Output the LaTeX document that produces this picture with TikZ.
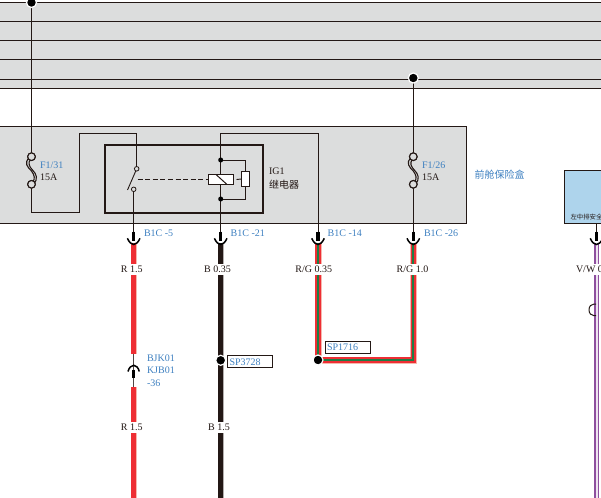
\documentclass[tikz,border=0pt]{standalone}
\usepackage{fontspec}
\setmainfont{Liberation Serif}
\newfontfamily\cjk{Noto Sans CJK SC}
\definecolor{boxgray}{HTML}{DCDDDD}
\definecolor{inkc}{HTML}{231815}
\definecolor{labblue}{HTML}{3E80C0}
\definecolor{wred}{HTML}{EE2E34}
\definecolor{wpink}{HTML}{F6B8AE}
\definecolor{wgreen}{HTML}{1E7E45}
\definecolor{wpurple}{HTML}{8E4F9E}
\definecolor{skyb}{HTML}{AED4EC}
\tikzset{
  every node/.style={outer sep=0pt},
  thin wire/.style={draw=inkc,line width=0.9pt},
  box line/.style={draw=inkc,line width=1pt},
  lab/.style={anchor=base west,inner sep=0pt,font=\fontsize{10}{10}\selectfont,text=inkc},
  blab/.style={lab,text=labblue},
  wlab/.style={anchor=base,inner sep=0pt,font=\fontsize{10}{10}\selectfont,text=inkc},
  gapbox/.style={fill=white,minimum height=11.6pt,inner sep=0pt},
  tagbox/.style={draw=inkc,line width=0.9pt,fill=white,minimum width=45pt,minimum height=12pt,inner sep=0pt},
  dot/.style={circle,fill=black,inner sep=0pt,minimum size=5pt},
  bigdot/.style={circle,fill=black,draw=white,line width=1.2pt,inner sep=0pt,minimum size=10pt},
  ring/.style={circle,draw=inkc,line width=1.1pt,fill=boxgray,inner sep=0pt,minimum size=7.6pt},
  smallring/.style={circle,draw=inkc,line width=0.8pt,fill=boxgray,inner sep=0pt,minimum size=4.6pt},
  redw/.style={draw=wred,line width=5pt},
  redhalo/.style={draw=wpink,line width=6.2pt},
  blackw/.style={draw=inkc,line width=5pt},
  blackhalo/.style={draw=inkc!35,line width=6pt},
  rghalo/.style={draw=wpink,line width=7pt},
  rgout/.style={draw=wred,line width=5.2pt},
  rgin/.style={draw=wgreen,line width=2pt},
  pin/.style={draw=black,line width=3.4pt},
  cup/.style={draw=black,line width=1.5pt},
}
\newcommand{\conncup}[1]{%
  \draw[pin] (#1,231.7) -- (#1,240.7);
  \draw[cup] (#1-6.3,238.3) .. controls (#1-4.5,242.5) and (#1-2,244.5) .. (#1,244.5) .. controls (#1+2,244.5) and (#1+4.5,242.5) .. (#1+6.3,238.3);
}
\newcommand{\fusesym}[2]{%
  \draw[draw=inkc,line width=1.1pt] (#1-2,#2+0.5) .. controls (#1-8,#2+6) and (#1-4,#2+10) .. (#1,#2+14)
     .. controls (#1+3,#2+18) and (#1+4,#2+22) .. (#1+1,#2+25);
  \draw[draw=inkc,line width=1.1pt] (#1-1,#2+2.5) .. controls (#1-4,#2+6) and (#1-2,#2+10) .. (#1+1,#2+13)
     .. controls (#1+5,#2+17) and (#1+7,#2+22) .. (#1+2,#2+27);
}
\begin{document}
\begin{tikzpicture}[x=1pt,y=-1pt]
\useasboundingbox (0,0) rectangle (601,497);
\begin{scope}
\clip (0,0) rectangle (601,497);
% top bus band
\fill[boxgray] (-2,2.3) rectangle (603,88.3);
\foreach \yy in {2.3,21.3,40.3,60,79.3,88.3}
  \draw[draw=inkc,line width=1pt] (-2,\yy) -- (603,\yy);
% fuse box
\node[draw=inkc,line width=1pt,fill=boxgray,minimum width=468pt,minimum height=97.4pt,inner sep=0pt,anchor=north west] (fusebox) at (-1.3,126.3) {};
% blue module
\node[draw=inkc,line width=1pt,fill=skyb,minimum width=50pt,minimum height=53pt,inner sep=0pt,anchor=north west] (module) at (564.7,170.5) {};
\node[anchor=base west,inner sep=0pt,font=\cjk\fontsize{6.4}{6.4}\selectfont,text=inkc] (modtext) at (570.5,219.3) {左中排安全};
% relay box
\node[draw=inkc,line width=1.6pt,minimum width=158pt,minimum height=67.5pt,inner sep=0pt,anchor=north west] (relay) at (105,145.3) {};
% named points
\coordinate (busA) at (31.5,2.5);
\coordinate (busB) at (413.3,78);
\node[ring] (f1a) at (31.5,156.7) {};
\node[ring] (f1b) at (31.5,184.3) {};
\node[ring] (f2a) at (413.3,156.7) {};
\node[ring] (f2b) at (413.3,184.3) {};
\node[smallring] (swa) at (136.7,168.8) {};
\node[smallring] (swb) at (133.7,189.3) {};
\coordinate (p1) at (31.5,212);
\coordinate (p2) at (79,212);
\coordinate (p3) at (79,133.5);
\coordinate (p4) at (136.7,133.5);
\coordinate (c5) at (133.7,232);
\coordinate (c21) at (220.7,232);
\coordinate (c14) at (318,232);
\coordinate (c26) at (413.3,232);
\coordinate (c36) at (596.5,232);
\coordinate (t1) at (220.7,133.5);
\coordinate (t2) at (318,133.5);
% thin wires
\draw[thin wire] (busA) -- (f1a);
\draw[thin wire] (f1b) -- (p1) -- (p2) -- (p3) -- (p4) -- (swa);
\draw[thin wire] (swb) -- (c5);
\draw[thin wire] (c14) -- (t2) -- (t1) -- (c21);
\draw[thin wire] (busB) -- (f2a);
\draw[thin wire] (f2b) -- (c26);
\draw[thin wire] (module.south -| c36) -- (c36);
\fusesym{31.5}{157}
\fusesym{413.3}{157}
\node[ring] at (f1a) {};
\node[ring] at (f1b) {};
\node[ring] at (f2a) {};
\node[ring] at (f2b) {};
% switch
\coordinate (bladeEnd) at (127.5,190);
\draw[draw=inkc,line width=0.9pt] (swa) -- (bladeEnd);
\coordinate (dashEnd) at (208.5,179.5);
\draw[draw=inkc,line width=0.9pt,dash pattern=on 5pt off 2.6pt] (137.5,179.5) -- (dashEnd);
% coil
\node[draw=inkc,line width=1.3pt,fill=white,minimum width=25pt,minimum height=10pt,inner sep=0pt] (coil) at (221,179.5) {};
\draw[draw=inkc,line width=1pt] (216,174.5) -- (227,184.5);
\node[dot] (d1) at (220.7,160) {};
\node[dot] (d2) at (220.7,199) {};
\node[draw=inkc,line width=1.2pt,fill=white,minimum width=8pt,minimum height=15pt,inner sep=0pt] (res) at (245.5,179) {};
\draw[thin wire] (d1) -- (d1 -| res) -- (res);
\draw[thin wire] (d2) -- (d2 -| res) -- (res);
\draw[draw=inkc,line width=0.9pt] (coil.east) ++(3,0) -- (res.west);
% wire: red
\draw[redhalo] (133.7,243) -- (133.7,354);
\draw[redw] (133.7,243) -- (133.7,354);
\draw[redhalo] (133.7,387) -- (133.7,500);
\draw[redw] (133.7,387) -- (133.7,500);
% wire: black
\draw[blackhalo] (220.7,243) -- (220.7,500);
\draw[blackw] (220.7,243) -- (220.7,500);
% wire: R/G
\coordinate (rgA) at (318,243);
\coordinate (rgC) at (413.3,360);
\coordinate (rgD) at (413.3,243);
\coordinate (rgB) at (318,360);
\draw[rghalo,line join=miter] (rgA) -- (rgB) -- (rgC) -- (rgD);
\draw[rgout,line join=miter] (rgA) -- (rgB) -- (rgC) -- (rgD);
\draw[rgin,line join=miter] (rgA) -- (rgB) -- (rgC) -- (rgD);
% wire: purple
\draw[draw=wpurple,line width=5.6pt] (596.5,243) -- (596.5,500);
\draw[draw=white!85!wpurple,line width=2pt] (596.5,243) -- (596.5,500);
\coordinate (loopT) at (596,304);
\coordinate (loopB) at (596,315.7);
\draw[draw=inkc,line width=1pt] (loopT) -- (594,304) .. controls (591,304) and (589,306.5) .. (589,309.85) .. controls (589,313.2) and (591,315.7) .. (594,315.7) -- (loopB);
% connectors
\conncup{133.7}
\conncup{220.7}
\conncup{318}
\conncup{413.3}
\conncup{596.5}
% inline connector
\coordinate (m1) at (133.7,354);
\coordinate (m2) at (133.7,387);
\draw[draw=inkc!80,line width=0.9pt] (m1) -- (m2);
\draw[cup] (128,371.5) .. controls (129,367.5) and (131.5,365.3) .. (133.7,365.3) .. controls (136,365.3) and (138.3,367.5) .. (139.3,371.5);
\draw[pin] (133.7,369.5) -- (133.7,378.3);
% dots
\node[bigdot] (busdotA) at (busA) {};
\node[bigdot] (busdotB) at (busB) {};
\node[bigdot] (sp1) at (220.7,360.3) {};
\node[bigdot] (sp2) at (rgB) {};
% tags
\node[tagbox,anchor=north west] (tag1) at (227.7,355.3) {};
\node[tagbox,anchor=north west] (tag2) at (325,341) {};
\node[blab] (t3728) at (229.5,365) {SP3728};
\node[blab] (t1716) at (327,350.7) {SP1716};
% wire labels with gaps
\node[gapbox,minimum width=30pt] (g1) at (133.7,269.5) {};
\node[gapbox,minimum width=34pt] (g2) at (219,269.5) {};
\node[gapbox,minimum width=46pt] (g3) at (314,269.5) {};
\node[gapbox,minimum width=44pt] (g4) at (412.5,269.5) {};
\node[gapbox,minimum width=26pt,anchor=west] (g5) at (575,269.5) {};
\node[gapbox,minimum width=30pt] (g6) at (131.7,427.5) {};
\node[gapbox,minimum width=30pt] (g7) at (219,427.5) {};
\node[wlab] (w1) at (131.7,272.7) {R 1.5};
\node[wlab] (w2) at (217.5,272.7) {B 0.35};
\node[wlab] (w3) at (313.8,272.7) {R/G 0.35};
\node[wlab] (w4) at (412.5,272.7) {R/G 1.0};
\node[lab] (w5) at (576,272.7) {V/W 0};
\node[wlab] (w6) at (131.7,430.7) {R 1.5};
\node[wlab] (w7) at (219,430.7) {B 1.5};
% blue labels
\node[blab] (l1) at (40,168.5) {F1/31};
\node[lab] (l2) at (40,180) {15A};
\node[blab] (l3) at (422,168.5) {F1/26};
\node[lab] (l4) at (422,180) {15A};
\node[lab] (l5) at (269,174) {IG1};
\node[lab,font=\cjk\fontsize{10}{10}\selectfont] (l6) at (269,188.7) {继电器};
\node[blab,font=\cjk\fontsize{10}{10}\selectfont] (l7) at (474.7,178) {前舱保险盒};
\node[blab] (c1) at (144,236.7) {B1C -5};
\node[blab] (c2) at (230.7,236.7) {B1C -21};
\node[blab] (c3) at (327.7,236.7) {B1C -14};
\node[blab] (c4) at (424,236.7) {B1C -26};
\node[blab] (j1) at (147,361) {BJK01};
\node[blab] (j2) at (147,373.7) {KJB01};
\node[blab] (j3) at (147,386.3) {-36};
\end{scope}
\end{tikzpicture}
\end{document}
